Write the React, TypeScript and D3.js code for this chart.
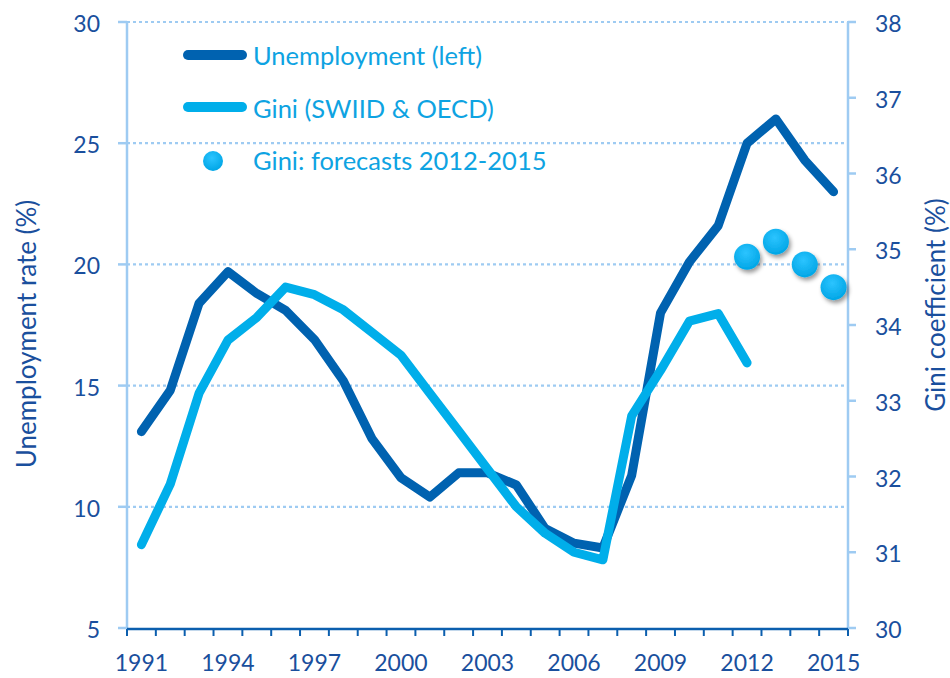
import React from 'react';
import * as d3 from 'd3';

const years = d3.range(1991, 2016);
const unemployment = [13.1, 14.8, 18.4, 19.7, 18.8, 18.1, 16.9, 15.2, 12.8, 11.2, 10.4, 11.4, 11.4, 10.9, 9.1, 8.5, 8.3, 11.3, 18.0, 20.1, 21.6, 25.0, 26.0, 24.3, 23.0];
const giniYears = d3.range(1991, 2013);
const gini = [31.1, 31.9, 33.1, 33.8, 34.1, 34.5, 34.4, 34.2, 33.9, 33.6, 33.1, 32.6, 32.1, 31.6, 31.25, 31.0, 30.9, 32.8, 33.4, 34.05, 34.15, 33.5];
const forecastYears = [2012, 2013, 2014, 2015];
const forecast = [34.9, 35.1, 34.8, 34.5];
const leftTicks = [5, 10, 15, 20, 25, 30];
const rightTicks = [30, 31, 32, 33, 34, 35, 36, 37, 38];
const labelYears = [1991, 1994, 1997, 2000, 2003, 2006, 2009, 2012, 2015];

const W = 950;
const H = 678;
const plot = { left: 127, right: 848, top: 22, bottom: 628 };

const DARK = '#0062b0';
const LIGHT = '#00aeea';
const AXIS_LIGHT = '#9ecbf2';
const LABEL = '#1a4f9d';
const LEGEND_TXT = '#0ea3e2';
const FONT = 'Lato, "Open Sans", sans-serif';

const App = () => {
  const x = d3.scalePoint<number>().domain(years).range([plot.left, plot.right]).padding(0.5);
  const step = x.step();
  const yL = d3.scaleLinear().domain([5, 30]).range([plot.bottom, plot.top]);
  const yR = d3.scaleLinear().domain([30, 38]).range([plot.bottom, plot.top]);

  const uLine = d3.line<number>()
    .x((d, i) => x(years[i]) as number)
    .y(d => yL(d));
  const gLine = d3.line<number>()
    .x((d, i) => x(giniYears[i]) as number)
    .y(d => yR(d));

  const boundaries = d3.range(years.length + 1).map(i => plot.left + i * step);

  return (
    <div style={{ position: 'absolute', left: 0, top: 0 }}>
      <svg width={W} height={H} style={{ display: 'block', fontFamily: FONT }}>
        <defs>
          <radialGradient id="dotGrad" cx="45%" cy="35%" r="65%">
            <stop offset="0%" stopColor="#2cc4ff" />
            <stop offset="100%" stopColor="#00a6e6" />
          </radialGradient>
          <filter id="shadow" x="-50%" y="-50%" width="200%" height="200%">
            <feDropShadow dx="2" dy="3" stdDeviation="2" floodColor="#000" floodOpacity="0.4" />
          </filter>
        </defs>
        <rect width={W} height={H} fill="#fff" />

        {/* dotted gridlines */}
        {leftTicks.filter(t => t > 5).map(t => (
          <line key={'g' + t} x1={plot.left} x2={plot.right} y1={yL(t)} y2={yL(t)}
            stroke={AXIS_LIGHT} strokeWidth={2.2} strokeDasharray="3 3" />
        ))}

        {/* left axis */}
        <line x1={plot.left} x2={plot.left} y1={plot.top} y2={plot.bottom} stroke={AXIS_LIGHT} strokeWidth={2.5} />
        {leftTicks.map(t => (
          <g key={'l' + t}>
            <line x1={plot.left - 9} x2={plot.left} y1={yL(t)} y2={yL(t)} stroke={AXIS_LIGHT} strokeWidth={2.5} />
            <text x={100} y={yL(t) + 10} textAnchor="end" fontSize={23} fill={LABEL}>{t}</text>
          </g>
        ))}

        {/* right axis */}
        <line x1={plot.right} x2={plot.right} y1={plot.top} y2={plot.bottom} stroke={AXIS_LIGHT} strokeWidth={2.5} />
        {rightTicks.map(t => (
          <g key={'r' + t}>
            <line x1={plot.right} x2={plot.right + 8} y1={yR(t)} y2={yR(t)} stroke={AXIS_LIGHT} strokeWidth={2.5} />
            <text x={875} y={yR(t) + 10} textAnchor="start" fontSize={23} fill={LABEL}>{t}</text>
          </g>
        ))}

        {/* x axis */}
        <line x1={plot.left} x2={plot.right} y1={plot.bottom + 1} y2={plot.bottom + 1} stroke="#0c5fae" strokeWidth={2.5} />
        {boundaries.map((b, i) => (
          <line key={'xt' + i} x1={b} x2={b} y1={plot.bottom + 1} y2={plot.bottom + 8} stroke="#0c5fae" strokeWidth={2} />
        ))}
        {labelYears.map(yr => (
          <text key={'xl' + yr} x={x(yr)} y={671} textAnchor="middle" fontSize={23} fill={LABEL}>{yr}</text>
        ))}

        {/* axis titles */}
        <text transform={`translate(36,334) rotate(-90)`} textAnchor="middle" fontSize={26} fill={LABEL}>Unemployment rate (%)</text>
        <text transform={`translate(945,305) rotate(-90)`} textAnchor="middle" fontSize={26} fill={LABEL}>Gini coefficient (%)</text>

        {/* series */}
        <path d={uLine(unemployment) as string} fill="none" stroke={DARK} strokeWidth={9} strokeLinejoin="round" strokeLinecap="round" />
        <path d={gLine(gini) as string} fill="none" stroke={LIGHT} strokeWidth={9} strokeLinejoin="round" strokeLinecap="round" />
        {forecast.map((v, i) => (
          <circle key={'f' + i} cx={x(forecastYears[i])} cy={yR(v)} r={13} fill="url(#dotGrad)" filter="url(#shadow)" />
        ))}

        {/* legend */}
        <line x1={188} x2={242} y1={55} y2={55} stroke={DARK} strokeWidth={10} strokeLinecap="round" />
        <text x={253} y={65} fontSize={25.5} fill={LEGEND_TXT}>Unemployment (left)</text>
        <line x1={188} x2={242} y1={107} y2={107} stroke={LIGHT} strokeWidth={10} strokeLinecap="round" />
        <text x={253} y={118} fontSize={25.5} fill={LEGEND_TXT}>Gini (SWIID &amp; OECD)</text>
        <circle cx={213} cy={161} r={10} fill="url(#dotGrad)" />
        <text x={253} y={170} fontSize={25.5} fill={LEGEND_TXT}>Gini: forecasts 2012-2015</text>
      </svg>
    </div>
  );
};

export default App;
